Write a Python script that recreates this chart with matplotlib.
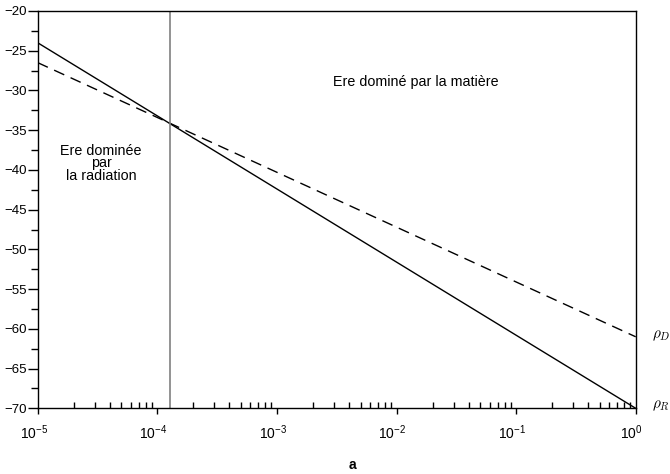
#!/usr/bin/env python3

import numpy as np
import matplotlib
matplotlib.use("Agg")
import matplotlib.pyplot as plt
import matplotlib.transforms as mtransforms
from matplotlib.ticker import LogLocator, MultipleLocator, FixedLocator

# end points of the two straight lines (log a on x)
a_ends = [1e-5, 1.0]
rho_rad = [-24.0, -70.0]
rho_mat = [-26.5, -61.0]
a_eq = 1.27e-4
xticks = [1e-5, 1e-4, 1e-3, 1e-2, 1e-1, 1.0]
xtick_labels = [r"$10^{-5}$", r"$10^{-4}$", r"$10^{-3}$", r"$10^{-2}$", r"$10^{-1}$", r"$10^{0}$"]

plt.rcParams['font.family'] = ['Liberation Sans', 'DejaVu Sans']
plt.rcParams['mathtext.fontset'] = 'custom'
plt.rcParams['mathtext.rm'] = 'Liberation Sans'
plt.rcParams['mathtext.it'] = 'Liberation Sans:italic'
plt.rcParams['axes.unicode_minus'] = True

fig = plt.figure(figsize=(6.7, 4.74), dpi=100)
ax = fig.add_axes([0.0563, 0.1386, 0.8925, 0.8382])

ax.plot(a_ends, rho_rad, color='black', lw=1.0)
ax.plot(a_ends, rho_mat, color='black', lw=1.0, dashes=(8, 5))
ax.axvline(a_eq, color='#808080', lw=1.2)

ax.set_xscale('log')
ax.set_xlim(1e-5, 1.0)
ax.set_ylim(-70, -20)

ax.xaxis.set_major_locator(FixedLocator(xticks))
ax.set_xticklabels(xtick_labels)
ax.xaxis.set_minor_locator(LogLocator(base=10, subs=np.arange(2, 10), numticks=20))
ax.xaxis.set_minor_formatter(plt.NullFormatter())
ax.yaxis.set_major_locator(MultipleLocator(5))
ax.yaxis.set_minor_locator(MultipleLocator(2.5))

ax.tick_params(axis='x', which='major', direction='out', length=4, width=1, labelsize=10, pad=7)
ax.tick_params(axis='x', which='minor', direction='in', length=4, width=1)
ax.tick_params(axis='y', which='both', direction='out', length=7, width=1, labelsize=9.5, pad=1)
ax.tick_params(axis='y', which='minor', length=5)

offset = mtransforms.ScaledTranslation(-4 / 100, 0, fig.dpi_scale_trans)
for lab in ax.get_xticklabels():
    lab.set_transform(lab.get_transform() + offset)

for side in ax.spines.values():
    side.set_linewidth(1.0)

ax.set_xlabel('a', fontweight='bold', fontsize=10)
ax.xaxis.set_label_coords(0.526, -0.125)

ax.text(0.632, 0.822, 'Ere dominé par la matière', transform=ax.transAxes,
        ha='center', va='center', fontsize=10.3)
ax.text(0.106, 0.617, 'Ere dominée\npar\nla radiation', transform=ax.transAxes,
        ha='center', va='center', fontsize=10.3, linespacing=0.85)

fig.text(652 / 670, 1 - 336 / 474, r'$\rho_{D}$', fontsize=11, va='center',
         family='DejaVu Serif', math_fontfamily='cm')
fig.text(652 / 670, 1 - 406 / 474, r'$\rho_{R}$', fontsize=11, va='center',
         family='DejaVu Serif', math_fontfamily='cm')

fig.savefig('out.png', dpi=100)
